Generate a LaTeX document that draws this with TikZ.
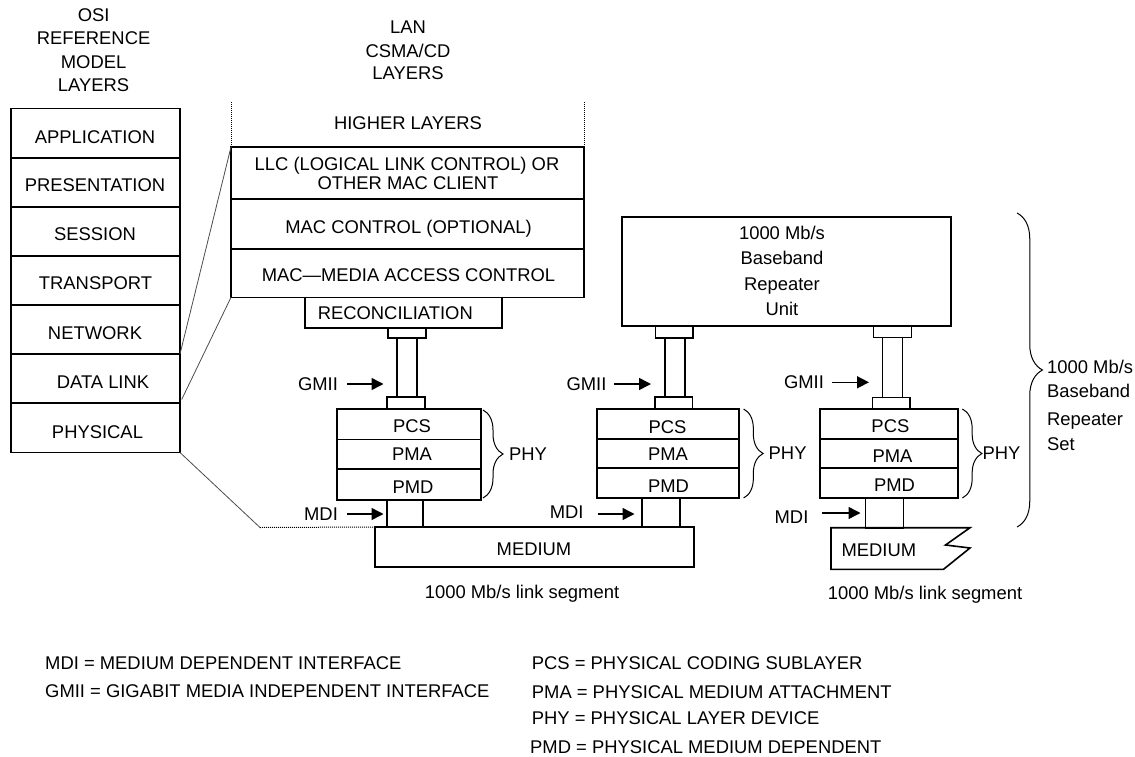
\documentclass[tikz,border=0pt]{standalone}
\usepackage{fontspec}
\setmainfont{Liberation Sans}
\usetikzlibrary{arrows.meta,decorations.pathreplacing}
\newcommand\rb[5]{\node[box, minimum width={#4-#2}, minimum height={#5-#3}] (#1) at (#2,#3) {};}
\newcommand\tx[4]{\node[txt] (#1) at (#2,#3+6.6) {#4};}
\newcommand\lx[4]{\node[txt, anchor=base west] (#1) at (#2,#3+6.6) {#4};}
\begin{document}
\begin{tikzpicture}[x=1pt,y=-1pt,
  box/.style={draw, line width=1.6pt, inner sep=0pt, outer sep=0pt, anchor=north west},
  txt/.style={inner sep=0pt, anchor=base, font=\fontsize{18.4}{23}\selectfont},
  thinline/.style={line width=0.8pt, black!70},
  dotline/.style={line width=1pt, dash pattern=on 1pt off 1pt},
  arr/.style={line width=1.5pt, -{Triangle[length=12pt,width=12pt]}},
  brc/.style={decorate, decoration={brace, amplitude=#1}, line width=1pt}]
\useasboundingbox (0,0) rectangle (1135,757);

% ---------- OSI column ----------
\tx{osiA}{93.6}{15}{OSI}
\tx{osiB}{93.6}{38.3}{REFERENCE}
\tx{osiC}{93.6}{61.7}{MODEL}
\tx{osiD}{93.6}{85}{LAYERS}
\rb{osi1}{10.7}{108.7}{180}{158}
\rb{osi2}{10.7}{158}{180}{207}
\rb{osi3}{10.7}{207}{180}{256}
\rb{osi4}{10.7}{256}{180}{305}
\rb{osi5}{10.7}{305}{180}{354}
\rb{osi6}{10.7}{354}{180}{403}
\rb{osi7}{10.7}{403}{180}{452.5}
\tx{t1}{95}{136.7}{APPLICATION}
\tx{t2}{95}{185.3}{PRESENTATION}
\tx{t3}{95}{234.3}{SESSION}
\tx{t4}{95.5}{283}{TRANSPORT}
\tx{t5}{95}{332.7}{NETWORK}
\tx{t6}{103}{382}{DATA LINK}
\tx{t7}{97.5}{432}{PHYSICAL}

% ---------- LAN CSMA/CD ----------
\tx{lanA}{408}{26.7}{LAN}
\tx{lanB}{408}{50.7}{CSMA/CD}
\tx{lanC}{408}{73.3}{LAYERS}
\coordinate (hlL1) at (231,102);
\coordinate (hlR1) at (584,102);
\tx{hl}{408}{123}{HIGHER LAYERS}
\rb{llc}{231}{147}{584}{199}
\rb{macc}{231}{199}{584}{248.7}
\rb{mac}{231}{248.7}{584}{297.3}
\draw[dotline, line width=0.8pt] (hlL1) -- (llc.north west);
\draw[dotline, line width=0.8pt] (hlR1) -- (llc.north east);
\tx{llcA}{407}{164}{LLC (LOGICAL LINK CONTROL) OR}
\tx{llcB}{408}{183.3}{OTHER MAC CLIENT}
\tx{maccT}{408.5}{227}{MAC CONTROL (OPTIONAL)}
\tx{macT}{408.5}{275}{MAC—MEDIA ACCESS CONTROL}
\rb{rec}{305}{297.3}{502}{327.7}
\tx{recT}{395.3}{313}{RECONCILIATION}

% ---------- station 1 ----------
\rb{c1u}{388}{327.7}{426}{338}
\rb{c1b}{397}{338}{417}{397}
\rb{c1l}{387}{397}{425}{409}
\rb{pcs1}{337}{409}{481}{439.5}
\rb{pma1}{337}{439.5}{481}{469}
\rb{pmd1}{337}{469}{481}{500}
\tx{pcs1T}{412}{425.7}{PCS}
\tx{pma1T}{412}{454.3}{PMA}
\tx{pmd1T}{413}{486.7}{PMD}
\rb{mdi1}{387}{500}{423}{527}
\rb{med1}{375}{527}{694}{567}
\tx{med1T}{534}{549}{MEDIUM}
\tx{seg1}{522}{591.7}{1000 Mb/s link segment}
\tx{gmii1}{318}{384}{GMII}
\coordinate (g1s) at (347,384); \coordinate (g1e) at (383.5,384);
\draw[arr] (g1s) -- (g1e);
\tx{mdi1T}{321}{514}{MDI}
\coordinate (m1s) at (347,514); \coordinate (m1e) at (383.5,514);
\draw[arr] (m1s) -- (m1e);
\coordinate (b1s) at (483,410); \coordinate (b1e) at (483,498);
\draw[brc=20pt] (b1s) -- (b1e);
\tx{phy1}{528}{454}{PHY}

% ---------- repeater ----------
\rb{rep}{622}{216.7}{951}{326}
\tx{repA}{782}{233}{1000 Mb/s}
\tx{repB}{782}{258}{Baseband}
\tx{repC}{782}{284}{Repeater}
\tx{repD}{782}{309}{Unit}

% ---------- station 2 ----------
\rb{c2u}{655.5}{326}{693}{338}
\rb{c2b}{665}{338}{685}{397}
\rb{c2l}{655}{397}{692.5}{409}
\rb{pcs2}{597}{409}{739}{439}
\rb{pma2}{597}{439}{739}{468}
\rb{pmd2}{597}{468}{739}{498}
\tx{pcs2T}{667.5}{426.5}{PCS}
\tx{pma2T}{668}{454}{PMA}
\tx{pmd2T}{668.5}{485.7}{PMD}
\rb{mdi2}{642}{498}{680}{527}
\tx{gmii2}{586.5}{384}{GMII}
\coordinate (g2s) at (614,384); \coordinate (g2e) at (651,384);
\draw[arr] (g2s) -- (g2e);
\tx{mdi2T}{566.7}{511.7}{MDI}
\coordinate (m2s) at (597.7,514); \coordinate (m2e) at (634.5,514);
\draw[arr] (m2s) -- (m2e);
\coordinate (b2s) at (743.6,409); \coordinate (b2e) at (743.6,498);
\draw[brc=19.5pt] (b2s) -- (b2e);
\tx{phy2}{787.6}{452.7}{PHY}

% ---------- station 3 ----------
\rb{c3u}{873.5}{326}{911.5}{337.5}
\rb{c3b}{882.5}{337.5}{902.5}{397.5}
\rb{c3l}{872.5}{397.5}{910}{409}
\rb{pcs3}{820}{409}{958}{439}
\rb{pma3}{820}{439}{958}{468}
\rb{pmd3}{820}{468}{958}{498}
\tx{pcs3T}{890.4}{425.7}{PCS}
\tx{pma3T}{892.5}{456}{PMA}
\tx{pmd3T}{894.5}{485}{PMD}
\rb{mdi3}{865.5}{498}{903.5}{527.7}
\coordinate (m3a) at (831,527.7);
\coordinate (m3b) at (970,527.7);
\coordinate (m3c) at (945.5,545);
\coordinate (m3d) at (970,548);
\coordinate (m3e) at (943.5,569.3);
\coordinate (m3f) at (831,569.3);
\draw[line width=1.6pt, line join=miter] (m3a) -- (m3b) -- (m3c) -- (m3d) -- (m3e) -- (m3f) -- cycle;
\tx{med3T}{878.8}{550}{MEDIUM}
\tx{seg2}{925}{592.7}{1000 Mb/s link segment}
\tx{gmii3}{804}{382.3}{GMII}
\coordinate (g3s) at (831.5,382.3); \coordinate (g3e) at (869,382.3);
\draw[arr] (g3s) -- (g3e);
\tx{mdi3T}{791.5}{516.7}{MDI}
\coordinate (m3s) at (822,513); \coordinate (m3t) at (860.5,513);
\draw[arr] (m3s) -- (m3t);
\coordinate (b3s) at (962.4,409); \coordinate (b3e) at (962.4,498);
\draw[brc=19.5pt] (b3s) -- (b3e);
\tx{phy3}{1001.5}{452.7}{PHY}

% ---------- repeater set brace ----------
\coordinate (bbs) at (1017,213); \coordinate (bbe) at (1017,527);
\draw[brc=25.5pt] (bbs) -- (bbe);
\lx{setA}{1047}{366.7}{1000 Mb/s}
\lx{setB}{1047}{390.7}{Baseband}
\lx{setC}{1047}{419.3}{Repeater}
\lx{setD}{1047}{444}{Set}

% ---------- OSI mapping lines ----------
\draw[thinline] (llc.north west) -- (osi6.north east);
\draw[thinline, shorten >=4pt] (mac.south west) -- (osi6.south east);
\coordinate (dl) at (260,527.5);
\draw[thinline] (osi7.south east) -- (dl);
\draw[dotline] (dl) -- (med1.north west);

% ---------- legend ----------
\lx{lg1}{45}{663}{MDI = MEDIUM DEPENDENT INTERFACE}
\lx{lg2}{45}{691}{GMII = GIGABIT MEDIA INDEPENDENT INTERFACE}
\lx{lg3}{531.7}{663}{PCS = PHYSICAL CODING SUBLAYER}
\lx{lg4}{531.7}{691.7}{PMA = PHYSICAL MEDIUM ATTACHMENT}
\lx{lg5}{531.7}{718.3}{PHY = PHYSICAL LAYER DEVICE}
\lx{lg6}{530}{746.7}{PMD = PHYSICAL MEDIUM DEPENDENT}
\end{tikzpicture}
\end{document}
